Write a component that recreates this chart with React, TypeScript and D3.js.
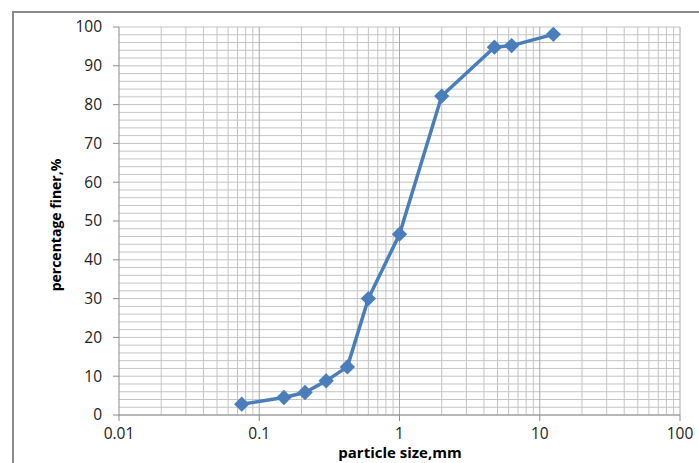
import React from "react";
import * as d3 from "d3";

// sieve analysis
const sizes = [0.075, 0.15, 0.212, 0.3, 0.425, 0.6, 1.0, 2.0, 4.75, 6.3, 12.5];
const finer = [2.8, 4.5, 5.8, 8.8, 12.4, 30, 46.6, 82.2, 94.8, 95.2, 98.1];
const xTicks = [0.01, 0.1, 1, 10, 100];
const yTicks = [0, 10, 20, 30, 40, 50, 60, 70, 80, 90, 100];

const W = 699;
const H = 463;
const m = { left: 119, right: 680, top: 27, bottom: 415 };
const blue = "#4a7ebb";
const font = "'Open Sans', 'Liberation Sans', sans-serif";

export default function App() {
  const x = d3.scaleLog().domain([0.01, 100]).range([m.left, m.right]);
  const y = d3.scaleLinear().domain([0, 100]).range([m.bottom, m.top]);

  // minor log lines 2..9 in every decade
  const minorX: number[] = [];
  for (let d = 0; d < xTicks.length - 1; d++) {
    for (let k = 2; k <= 9; k++) minorX.push(xTicks[d] * k);
  }
  const minorY = d3.range(2, 100, 2).filter((v) => v % 10 !== 0);

  const pts = sizes.map((s, i) => [x(s), y(finer[i])] as [number, number]);
  const line = d3.line()(pts) || "";
  const diamond = d3.symbol().type(d3.symbolDiamond2).size(150)() || "";

  return (
    <svg
      width={W}
      height={H}
      style={{ position: "absolute", left: 0, top: 0, background: "#fff" }}
    >
      {/* chart frame */}
      <line x1={12} y1={12} x2={W} y2={12} stroke="#8a8a8a" strokeWidth={2} />
      <line x1={13} y1={12} x2={13} y2={H} stroke="#8a8a8a" strokeWidth={2} />

      {/* grid */}
      <g stroke="#c4c4c4" strokeWidth={1}>
        {minorY.map((v) => (
          <line key={"hy" + v} x1={m.left} x2={m.right} y1={y(v)} y2={y(v)} />
        ))}
        {yTicks.map((v) => (
          <line key={"Hy" + v} x1={m.left} x2={m.right} y1={y(v)} y2={y(v)} />
        ))}
        {minorX.map((v) => (
          <line key={"vx" + v} x1={x(v)} x2={x(v)} y1={m.top} y2={m.bottom} />
        ))}
      </g>
      <g stroke="#a8a8a8" strokeWidth={1}>
        {xTicks.slice(1).map((v) => (
          <line key={"Vx" + v} x1={x(v)} x2={x(v)} y1={m.top} y2={m.bottom} />
        ))}
      </g>

      {/* axes */}
      <g stroke="#8c8c8c" strokeWidth={1}>
        <line x1={m.left} x2={m.left} y1={m.top} y2={m.bottom} />
        <line x1={m.left} x2={m.right} y1={m.bottom} y2={m.bottom} />
        {yTicks.map((v) => (
          <line key={"ty" + v} x1={m.left - 6} x2={m.left} y1={y(v)} y2={y(v)} />
        ))}
        {xTicks.map((v) => (
          <line key={"tx" + v} x1={x(v)} x2={x(v)} y1={m.bottom} y2={m.bottom + 6} />
        ))}
      </g>

      <g fontFamily={font} fontSize={15.5} fill="#222">
        {yTicks.map((v) => (
          <text key={"ly" + v} x={m.left - 17} y={y(v)} dy="0.35em" textAnchor="end">
            {v}
          </text>
        ))}
        {xTicks.map((v) => (
          <text key={"lx" + v} x={x(v)} y={439} textAnchor="middle">
            {v}
          </text>
        ))}
      </g>

      <g fontFamily={font} fontWeight="bold" fill="#000">
        <text x={400} y={458} fontSize={15} textAnchor="middle">
          particle size,mm
        </text>
        <text transform="translate(61,225) rotate(-90)" fontSize={14} textAnchor="middle">
          percentage finer,%
        </text>
      </g>

      {/* data */}
      <path d={line} fill="none" stroke={blue} strokeWidth={3.5} strokeLinejoin="round" />
      {pts.map((p, i) => (
        <path key={"m" + i} d={diamond} transform={`translate(${p[0]},${p[1]})`} fill={blue} />
      ))}
    </svg>
  );
}
